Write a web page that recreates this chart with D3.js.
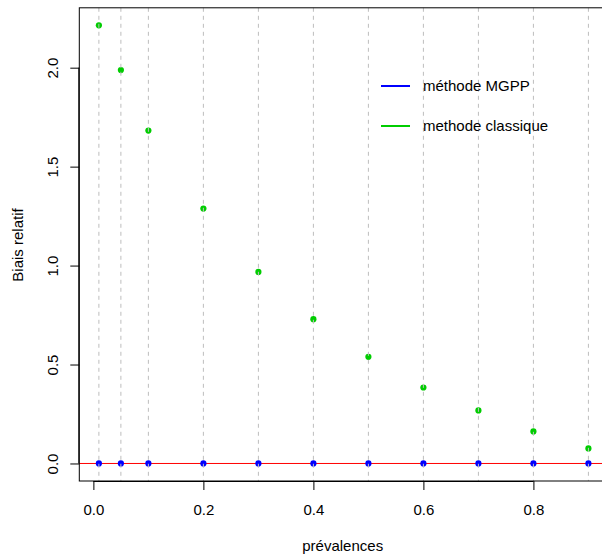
<!DOCTYPE html>
<html>
<head>
<meta charset="utf-8">
<script src="https://cdn.jsdelivr.net/npm/d3@7"></script>
<style>
  body { margin: 0; background: #fff; }
  svg text { font-family: "Liberation Sans", Arial, sans-serif; font-size: 15px; fill: #000; }
</style>
</head>
<body>
<script>
// prevalences tested and relative bias of each method
const prevalences = [0.01, 0.05, 0.1, 0.2, 0.3, 0.4, 0.5, 0.6, 0.7, 0.8, 0.9]
const biaisMGPP = [0, 0, 0, 0, 0, 0, 0, 0, 0, 0, 0]
const biaisClassique = [2.214, 1.988, 1.682, 1.288, 0.968, 0.729, 0.539, 0.384, 0.268, 0.162, 0.076]
const xTicks = [0, 0.2, 0.4, 0.6, 0.8]
const yTicks = [0, 0.5, 1, 1.5, 2]
const legendLabels = ["méthode MGPP", "methode classique"]
const colors = ["#0000ff", "#00cd00"]

let w = 602, h = 554
let svg = d3.select("body").append("svg").attr("width", w).attr("height", h)

// R style 4% padding on both axes
let xPad = 0.04 * (d3.max(prevalences) - d3.min(prevalences))
let yMax = d3.max(biaisClassique), yPad = 0.04 * yMax
let box = {left: 79.3, top: 7.8, right: 608, bottom: 481}

let x = d3.scaleLinear()
    .domain([d3.min(prevalences) - xPad, d3.max(prevalences) + xPad])
    .range([box.left, box.right])
let y = d3.scaleLinear()
    .domain([0 - yPad, yMax + yPad])
    .range([box.bottom, box.top])

// red reference line at 0
svg.append("line")
    .attr("x1", box.left).attr("x2", box.right)
    .attr("y1", y(0)).attr("y2", y(0))
    .attr("stroke", "#ff0000").attr("stroke-width", 1)

// points
svg.selectAll(".pc").data(prevalences).enter().append("circle")
    .attr("cx", d => x(d))
    .attr("cy", (d, i) => y(biaisClassique[i]))
    .attr("r", 3.1).attr("fill", colors[1])
svg.selectAll(".pm").data(prevalences).enter().append("circle")
    .attr("cx", d => x(d))
    .attr("cy", (d, i) => y(biaisMGPP[i]))
    .attr("r", 3.1).attr("fill", colors[0])

// dashed vertical lines at each prevalence
svg.selectAll(".vl").data(prevalences).enter().append("line")
    .attr("x1", d => x(d)).attr("x2", d => x(d))
    .attr("y1", box.top).attr("y2", box.bottom)
    .attr("stroke", "#bebebe").attr("stroke-width", 1)
    .attr("stroke-dasharray", "4,4")

// box
svg.append("rect")
    .attr("x", box.left).attr("y", box.top)
    .attr("width", box.right - box.left).attr("height", box.bottom - box.top)
    .attr("fill", "none").attr("stroke", "#000").attr("stroke-width", 1)

// x axis (line only from first to last tick, like R)
let xAxis = svg.append("g").attr("transform", "translate(0," + box.bottom + ")")
    .call(d3.axisBottom(x).tickValues(xTicks).tickSize(9).tickSizeOuter(0).tickFormat(d3.format(".1f")))
xAxis.attr("font-size", null).attr("font-family", null)
xAxis.select(".domain")
    .attr("d", "M" + x(xTicks[0]) + ",0.5H" + x(xTicks[xTicks.length - 1]))
    .attr("stroke", "#000")
xAxis.selectAll(".tick line").attr("stroke", "#000")
xAxis.selectAll(".tick text").attr("y", 33.5).attr("dy", null)

// y axis with rotated labels
let yAxis = svg.append("g").attr("transform", "translate(" + box.left + ",0)")
    .call(d3.axisLeft(y).tickValues(yTicks).tickSize(9).tickSizeOuter(0).tickFormat(d3.format(".1f")))
yAxis.attr("font-size", null).attr("font-family", null)
yAxis.select(".domain")
    .attr("d", "M-0.5," + y(yTicks[0]) + "V" + y(yTicks[yTicks.length - 1]))
    .attr("stroke", "#000")
yAxis.selectAll(".tick line").attr("stroke", "#000")
yAxis.selectAll(".tick text")
    .attr("x", null).attr("dy", null)
    .attr("text-anchor", "middle")
    .attr("transform", "translate(-21.5,0) rotate(-90)")

// axis titles
svg.append("text").attr("x", 342.7).attr("y", 551)
    .attr("text-anchor", "middle").text("prévalences")
svg.append("text").attr("transform", "translate(22.5,245) rotate(-90)")
    .attr("text-anchor", "middle").text("Biais relatif")

// legend
let legend = svg.selectAll(".lg").data(legendLabels).enter().append("g")
    .attr("transform", (d, i) => "translate(381," + (86 + i * 40) + ")")
legend.append("line").attr("x1", 0).attr("x2", 29)
    .attr("stroke", (d, i) => colors[i]).attr("stroke-width", 2)
legend.append("text").attr("x", 42).attr("y", 5).text(d => d)
</script>
</body>
</html>
